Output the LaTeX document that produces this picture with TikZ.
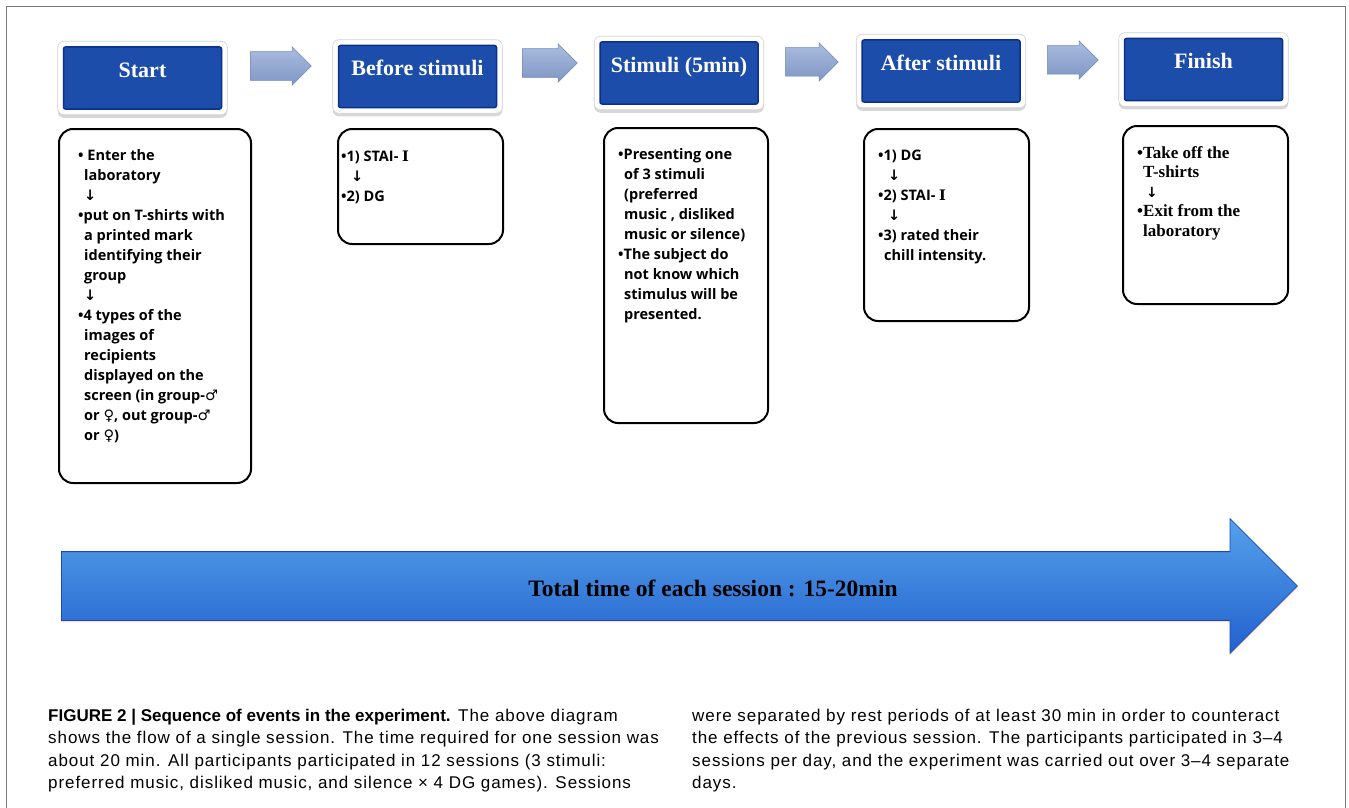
\documentclass[tikz,border=0pt]{standalone}
\usepackage{fontspec}
\setmainfont{Liberation Serif}
\setsansfont{Liberation Sans}
\newfontfamily\boxfont{Open Sans}
\newfontfamily\capfont[LetterSpace=5.5]{Liberation Sans}
\newfontfamily\symfont{DejaVu Sans}
\newfontfamily\numfont{DejaVu Serif}
\usetikzlibrary{shapes.arrows,positioning,calc,fit,backgrounds,shadows}
\definecolor{hdrblue}{HTML}{1C4DAA}
\definecolor{hdredge}{HTML}{0B2F8E}
\definecolor{steptop}{HTML}{AABCDF}
\definecolor{stepbot}{HTML}{7F97C5}
\definecolor{stepedge}{HTML}{7189B9}
\definecolor{bartop}{HTML}{55A1EA}
\definecolor{barbot}{HTML}{2261CE}
\definecolor{baredge}{HTML}{1848C0}
\definecolor{framegrey}{HTML}{7A7A7A}

\begin{document}
\begin{tikzpicture}[
  x=1pt, y=-1pt,
  hdr/.style={fill=hdrblue, draw=hdredge, line width=1.5pt, rounded corners=2pt,
              minimum width=158pt, minimum height=62pt, inner sep=0pt,
              font=\bfseries\fontsize{22}{24}\selectfont, text=white,
              text height=14pt, text depth=15pt},
  hdrframe/.style={fill=white, draw=black!18, line width=0.6pt, rounded corners=6pt,
              inner sep=5pt, drop shadow={shadow xshift=0pt, shadow yshift=-3pt,
              opacity=0.35, fill=black!45}},
  stepar/.style={single arrow, single arrow head extend=5pt, inner xsep=0pt,
              inner ysep=14pt, minimum height=58pt, top color=steptop,
              bottom color=stepbot, draw=stepedge, line width=0.5pt, anchor=tail},
  cbox/.style={draw=black, line width=2pt, rounded corners=14pt, fill=white,
              anchor=north west, inner sep=0pt},
  btxt/.style={anchor=north west, align=left, inner sep=0pt,
              font=\boxfont\bfseries\fontsize{14.5}{20}\selectfont},
  stxt/.style={anchor=north west, align=left, inner sep=0pt,
              font=\bfseries\fontsize{17}{19.5}\selectfont},
  captxt/.style={anchor=north west, align=left, inner sep=0pt,
              font=\capfont\fontsize{17}{22.3}\selectfont},
]
\def\ind{\hspace*{6pt}}
\def\dn{{\symfont ↓}}
\useasboundingbox (0,0) rectangle (1349,808);

% ---------------- frame --------------------------------------------
\draw[framegrey, line width=1pt] (6,808) -- (6,7) -- (1345,7) -- (1345,808);

% ---------------- stage headers ------------------------------------
\node[hdr] (hs) at (142.5,78)   {Start};
\node[hdr] (hb) at (417.5,76.5) {Before stimuli};
\node[hdr] (hm) at (679,73)     {Stimuli (5min)};
\node[hdr] (ha) at (941,71)     {After stimuli};
\node[hdr] (hf) at (1203.5,69.5){Finish};

\begin{scope}[on background layer]
  \foreach \n in {hs,hb,hm,ha,hf}
    \node[hdrframe, fit=(\n)] (\n F) {};
\end{scope}

% ---------------- arrows between stages ----------------------------
\node[stepar, minimum height=61pt] (a1) at (250,66)  {};
\node[stepar, minimum height=55pt] (a2) at (522,63)  {};
\node[stepar, minimum height=53pt] (a3) at (785,62)  {};
\node[stepar, minimum height=51pt] (a4) at (1047,60) {};

% ---------------- stage contents -----------------------------------
\node[cbox, minimum width=192pt, minimum height=354pt] (cs) at (58,128) {};
\node[btxt] (csT) at ([shift={(20pt,-21pt)}]cs.north west)
  {• Enter the\\
   \ind laboratory\\
   \ind\dn\\
   •put on T-shirts with\\
   \ind a printed mark\\
   \ind identifying their\\
   \ind group\\
   \ind\dn\\
   •4 types of the\\
   \ind images of\\
   \ind recipients\\
   \ind displayed on the\\
   \ind screen (in group-{\symfont ♂}\\
   \ind or {\symfont ♀}, out group-{\symfont ♂}\\
   \ind or {\symfont ♀})};

\node[cbox, minimum width=165pt, minimum height=115pt] (cb) at (337,128) {};
\node[btxt] (cbT) at ([shift={(4pt,-23pt)}]cb.north west)
  {•1) STAI- {\numfont Ⅰ}\\
   \ind\hspace*{4pt}\dn\\
   •2) DG};

\node[cbox, minimum width=164pt, minimum height=295pt] (cm) at (603,127) {};
\node[btxt] (cmT) at ([shift={(15pt,-21pt)}]cm.north west)
  {•Presenting one\\
   \ind of 3 stimuli\\
   \ind (preferred\\
   \ind music , disliked\\
   \ind music or silence)\\
   •The subject do\\
   \ind not know which\\
   \ind stimulus will be\\
   \ind presented.};

\node[cbox, minimum width=165pt, minimum height=192pt] (ca) at (863,128) {};
\node[btxt] (caT) at ([shift={(15pt,-22pt)}]ca.north west)
  {•1) DG\\
   \ind\hspace*{4pt}\dn\\
   •2) STAI- {\numfont Ⅰ}\\
   \ind\hspace*{4pt}\dn\\
   •3) rated their\\
   \ind chill intensity.};

\node[cbox, minimum width=165pt, minimum height=178pt] (cf) at (1122,125) {};
\node[stxt] (cfT) at ([shift={(15pt,-21pt)}]cf.north west)
  {•Take off the\\
   \ind T-shirts\\
   \ind\hspace*{3pt}{\symfont\bfseries\fontsize{14}{19.5}\selectfont ↓}\\
   •Exit from the\\
   \ind laboratory};

% ---------------- session arrow ------------------------------------
\node[single arrow, single arrow head extend=33pt, inner xsep=0pt, inner ysep=34pt,
      minimum height=1236pt, top color=bartop, bottom color=barbot, draw=baredge,
      line width=0.8pt, anchor=tail, drop shadow={shadow xshift=0pt,
      shadow yshift=-2pt, fill=orange!35!white, opacity=0.7}] (tot) at (61,586) {};
\node[font=\bfseries\fontsize{23.5}{26}\selectfont, inner sep=0pt] (totT)
  at (713,588) {Total time of each session : 15-20min};

% ---------------- caption ------------------------------------------
\node[captxt] (capL) at (48,709)
  {{\sffamily\bfseries FIGURE 2 | Sequence of events in the experiment.} The above diagram\\
   shows the flow of a single session. The time required for one session was\\
   about 20 min. All participants participated in 12 sessions (3 stimuli:\\
   preferred music, disliked music, and silence × 4 DG games). Sessions};
\node[captxt] (capR) at (692,709)
  {were separated by rest periods of at least 30 min in order to counteract\\
   the effects of the previous session. The participants participated in 3–4\\
   sessions per day, and the experiment was carried out over 3–4 separate\\
   days.};

\end{tikzpicture}
\end{document}
